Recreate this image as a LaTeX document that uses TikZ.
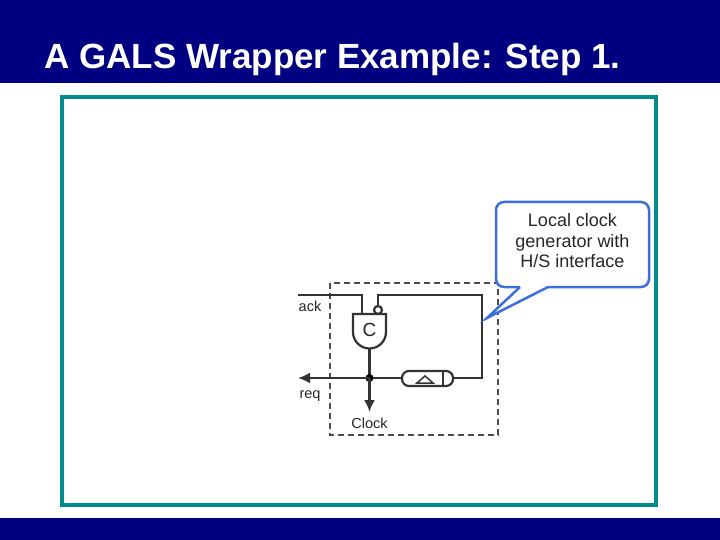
\documentclass[tikz,border=0pt]{standalone}
\usepackage{fontspec}
\setmainfont{Liberation Sans}
\usetikzlibrary{arrows.meta}
\definecolor{navy}{RGB}{0,0,128}
\definecolor{teal2}{RGB}{0,140,140}
\definecolor{callb}{RGB}{60,110,220}
\begin{document}
\begin{tikzpicture}[x=1pt,y=-1pt,
  wire/.style={line width=2.2pt,black!80},
  arr/.style={wire,-{Latex[length=12pt,width=11pt]}},
  lbl/.style={font=\fontsize{14.5}{17}\selectfont,text=black!85}]
\useasboundingbox (0,0) rectangle (720,540);
\fill[white] (0,0) rectangle (720,540);
\fill[navy] (0,0) rectangle (720,83);
\fill[navy] (0,518) rectangle (720,540);
\node[anchor=west,text=white,font=\bfseries\fontsize{35}{40}\selectfont,inner sep=0pt] (title) at (44,59) {A GALS Wrapper Example: Step 1.};
\draw[teal2,line width=4pt] (62,97) rectangle (656,505);
% dashed box
\draw[dash pattern=on 6pt off 4pt,black!70,line width=1.2pt] (330,283) rectangle (498,435);
% C gate
\draw[wire,fill=white] (353,314) -- (386,314) -- (386,332) arc[start angle=0,end angle=180,radius=16.5] -- cycle;
\node[lbl,font=\fontsize{19}{21}\selectfont] (c) at (369.5,330) {C};
\draw[wire,fill=white] (378,310) circle[radius=4];
\coordinate (ackin) at (298,295);
\coordinate (j) at (369.5,378);
\draw[wire] (ackin) -- (362,295) -- (362,313);
\draw[wire] (378,306) -- (378,295) -- (482,295) -- (482,378) -- (453,378);
\draw[wire] (369.5,348.5) -- (j);
% delay element
\draw[wire,fill=white,rounded corners=7pt] (402,371) rectangle (453,386);
\draw[wire] (443,371) -- (443,386);
\draw[black!80,line width=1.5pt] (417,383) -- (425,376) -- (433,383) -- cycle;
\draw[wire] (402,378) -- (j);
\fill (j) circle[radius=4];
\coordinate (reqout) at (298,378);
\coordinate (clkout) at (369.5,412);
\draw[arr] (j) -- (reqout);
\draw[arr] (j) -- (clkout);
\node[lbl] (ack) at (310,306) {ack};
\node[lbl] (req) at (310,396) {req};
\node[lbl] (clock) at (369.5,423) {Clock};
% callout
\draw[callb,line width=2.5pt,fill=white,rounded corners=8pt]
  (520,287) -- (496,287) -- (496,202) -- (649,202) -- (649,287) -- (548,287);
\draw[callb,line width=2.5pt,fill=white] (520,287) -- (487,318) -- (548,287);
\node[lbl,align=center,font=\fontsize{18}{20.5}\selectfont] (call) at (572.5,241) {Local clock\\generator with\\H/S interface};
\end{tikzpicture}
\end{document}
